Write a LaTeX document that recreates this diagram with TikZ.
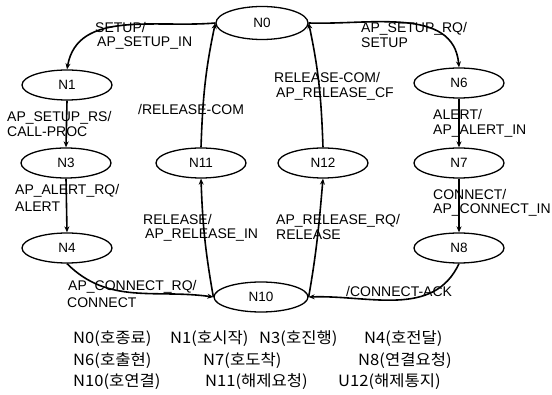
\documentclass[tikz,border=0pt]{standalone}
\usepackage{fontspec}
\setmainfont{Liberation Sans}
\newfontfamily\cjk[FakeStretch=1.07]{Noto Sans CJK KR}
\usetikzlibrary{arrows.meta,shapes.geometric}
\begin{document}
\begin{tikzpicture}[x=1pt,y=1pt,
  st/.style={ellipse,draw,line width=1.3pt,minimum width=90pt,minimum height=30pt,inner sep=0pt,font=\fontsize{13.5}{15}\selectfont},
  lab/.style={anchor=base west,inner sep=0pt,font=\fontsize{14}{16}\selectfont},
  kr/.style={anchor=base west,inner sep=0pt,font=\cjk\fontsize{15.5}{17}\selectfont},
  arr/.style={line width=1.6pt,-{Stealth[length=6pt,width=5pt]}}]
\useasboundingbox (0,0) rectangle (552,-395);
% states
\node[st,minimum width=92pt,minimum height=33pt] (N0) at (262,-23) {N0};
\node[st] (N1) at (67,-85) {N1};
\node[st] (N6) at (459,-83) {N6};
\node[st] (N3) at (66,-163) {N3};
\node[st] (N11) at (201,-163) {N11};
\node[st] (N12) at (323,-163) {N12};
\node[st] (N7) at (459,-163) {N7};
\node[st] (N4) at (67,-248) {N4};
\node[st] (N8) at (459,-248) {N8};
\node[st,minimum width=94pt] (N10) at (261,-297) {N10};
% connectors
\draw[arr] (N0.west) to[out=185,in=80] (N1.north);
\draw[arr] (N11.north) to[out=88,in=258] (N0.west);
\draw[arr] (N12.north) to[out=92,in=282] (N0.east);
\draw[arr] (N0.east) to[out=-2,in=95] (N6.north);
\draw[arr] (N1.south) -- (N3.north);
\draw[arr] (N3.south) -- (N4.north);
\draw[arr] (N6.south) -- (N7.north);
\draw[arr] (N7.south) -- (N8.north);
\draw[arr] (N10.west) to[out=100,in=272] (N11.south);
\draw[arr] (N10.east) to[out=80,in=265] (N12.south);
\draw[arr] (N4.south) to[out=-45,in=172] (N10.west);
\draw[arr] (N8.south) to[out=-115,in=2] (N10.east);
% transition labels
\node[lab] (t1a) at (95,-33) {SETUP/};
\node[lab] (t1b) at (97,-47) {AP\_SETUP\_IN};
\node[lab] (t2a) at (361,-33) {AP\_SETUP\_RQ/};
\node[lab] (t2b) at (361,-48) {SETUP};
\node[lab] (t3a) at (7,-122) {AP\_SETUP\_RS/};
\node[lab] (t3b) at (7,-137) {CALL-PROC};
\node[lab] (t4) at (138,-115) {/RELEASE-COM};
\node[lab] (t5a) at (274,-83) {RELEASE-COM/};
\node[lab] (t5b) at (276,-98) {AP\_RELEASE\_CF};
\node[lab] (t6a) at (433,-120) {ALERT/};
\node[lab] (t6b) at (433,-135) {AP\_ALERT\_IN};
\node[lab] (t7a) at (15,-195) {AP\_ALERT\_RQ/};
\node[lab] (t7b) at (15,-212) {ALERT};
\node[lab] (t8a) at (143,-225) {RELEASE/};
\node[lab] (t8b) at (145,-239) {AP\_RELEASE\_IN};
\node[lab] (t9a) at (276,-225) {AP\_RELEASE\_RQ/};
\node[lab] (t9b) at (276,-240) {RELEASE};
\node[lab] (t10a) at (433,-200) {CONNECT/};
\node[lab] (t10b) at (433,-214) {AP\_CONNECT\_IN};
\node[lab] (t11a) at (68,-291) {AP\_CONNECT\_RQ/};
\node[lab] (t11b) at (67,-308) {CONNECT};
\node[lab] (t12) at (346,-297) {/CONNECT-ACK};
% legend
\node[kr] (k1) at (73,-344) {N0(호종료)};
\node[kr] (k2) at (170,-344) {N1(호시작)};
\node[kr] (k3) at (259,-344) {N3(호진행)};
\node[kr] (k4) at (364,-344) {N4(호전달)};
\node[kr] (k5) at (73,-366) {N6(호출현)};
\node[kr] (k6) at (203,-366) {N7(호도착)};
\node[kr] (k7) at (358,-366) {N8(연결요청)};
\node[kr] (k8) at (73,-387) {N10(호연결)};
\node[kr] (k9) at (205,-387) {N11(해제요청)};
\node[kr] (k10) at (338,-387) {U12(해제통지)};
\end{tikzpicture}
\end{document}
